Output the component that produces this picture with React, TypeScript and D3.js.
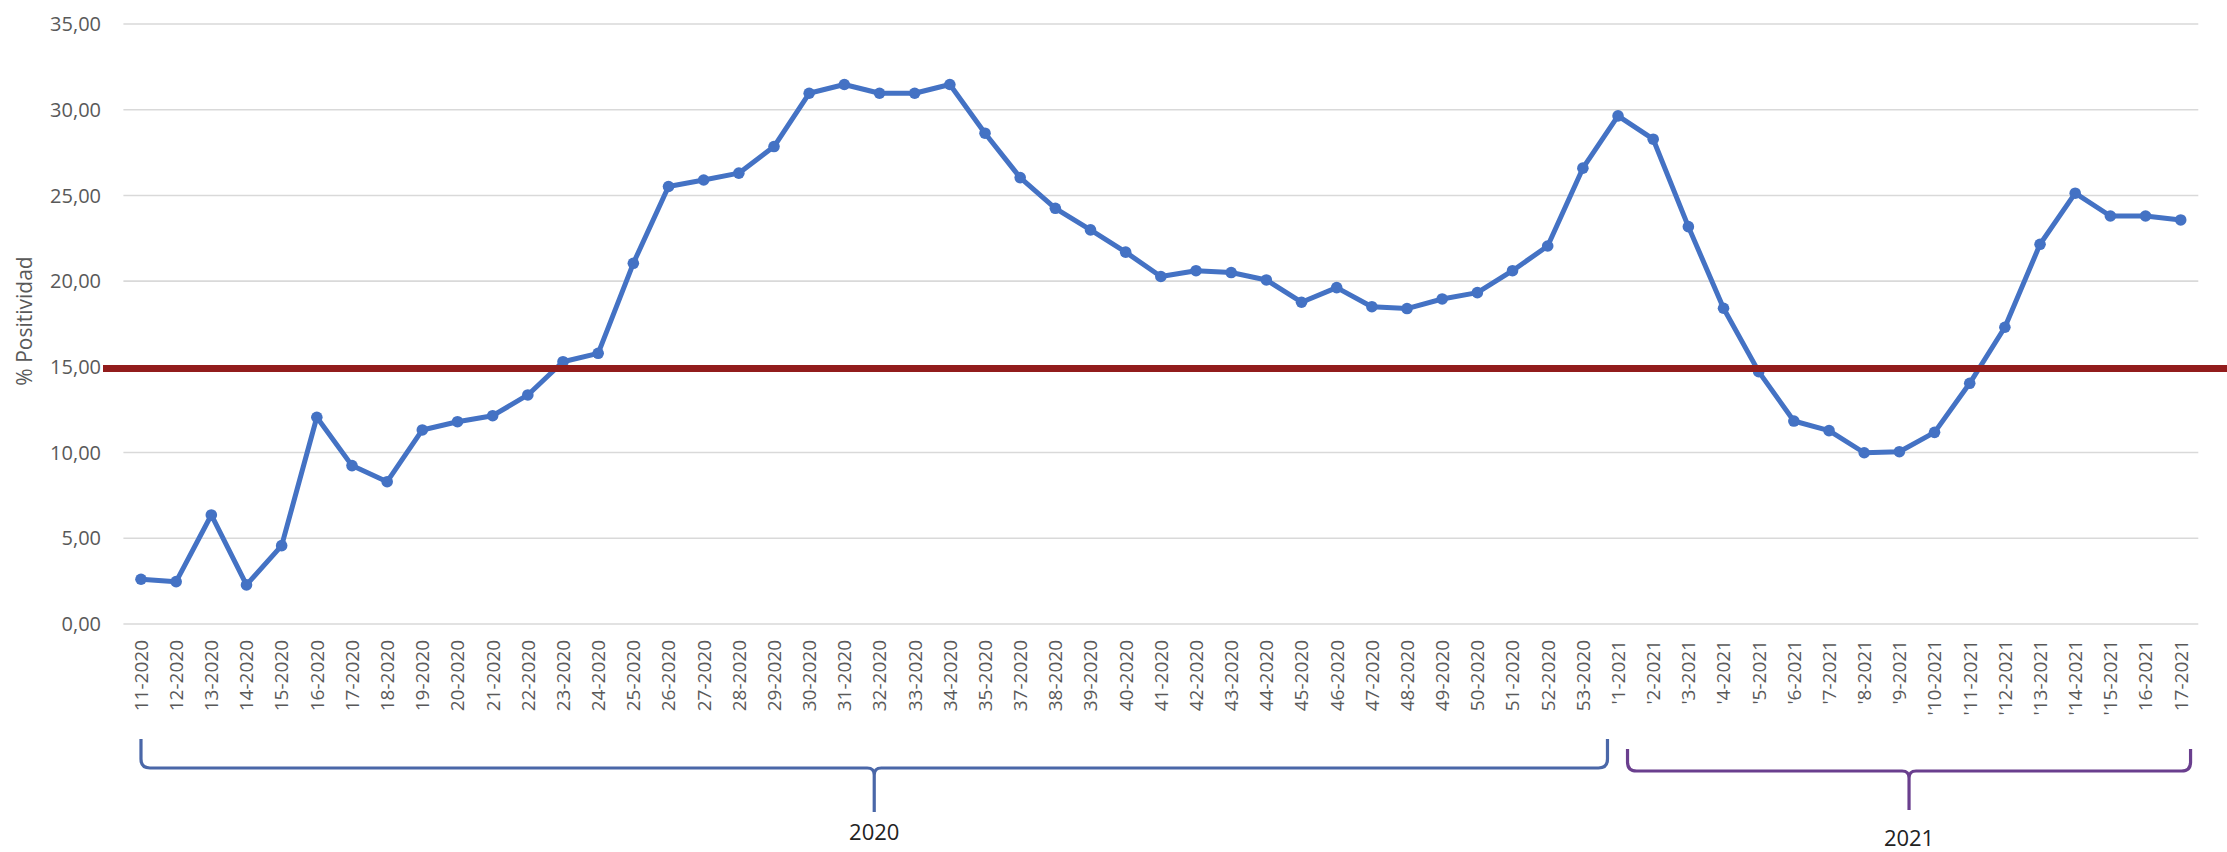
import React from "react";
import * as d3 from "d3";

const labels2020 = [
  "11-2020","12-2020","13-2020","14-2020","15-2020","16-2020","17-2020","18-2020","19-2020","20-2020",
  "21-2020","22-2020","23-2020","24-2020","25-2020","26-2020","27-2020","28-2020","29-2020","30-2020",
  "31-2020","32-2020","33-2020","34-2020","35-2020","37-2020","38-2020","39-2020","40-2020","41-2020",
  "42-2020","43-2020","44-2020","45-2020","46-2020","47-2020","48-2020","49-2020","50-2020","51-2020",
  "52-2020","53-2020",
];
const labels2021 = [
  "'1-2021","'2-2021","'3-2021","'4-2021","'5-2021","'6-2021","'7-2021","'8-2021","'9-2021","'10-2021",
  "'11-2021","'12-2021","'13-2021","'14-2021","'15-2021","16-2021","17-2021",
];
const values2020 = [
  2.61, 2.47, 6.36, 2.28, 4.57, 12.06, 9.24, 8.3, 11.32, 11.8,
  12.15, 13.36, 15.3, 15.79, 21.04, 25.52, 25.9, 26.3, 27.85, 30.96,
  31.47, 30.96, 30.96, 31.47, 28.63, 26.04, 24.25, 22.99, 21.69, 20.27,
  20.61, 20.5, 20.07, 18.77, 19.62, 18.51, 18.4, 18.96, 19.33, 20.61,
  22.05, 26.59,
];
const values2021 = [
  29.64, 28.28, 23.18, 18.42, 14.72, 11.84, 11.28, 9.99, 10.05, 11.18,
  14.04, 17.31, 22.15, 25.13, 23.8, 23.8, 23.57,
];
const yTicks = [0, 5, 10, 15, 20, 25, 30, 35];
const threshold = 14.9;
const yearLabels = ["2020", "2021"];
const yTitle = "% Positividad";

const categories = [...labels2020, ...labels2021];
const values = [...values2020, ...values2021];
const data = categories.map((c, i) => ({ c, v: values[i] }));

const W = 2227;
const H = 852;
const FONT = "'Open Sans', 'Noto Sans', sans-serif";

function bracketPath(L: number, R: number, T: number, B: number, M: number, tip: number) {
  const r = 9;
  const r2 = 7;
  return (
    `M${L},${T} V${B - r} Q${L},${B} ${L + r},${B} H${M - r2} Q${M},${B} ${M},${B + r2} V${tip} ` +
    `M${R},${T} V${B - r} Q${R},${B} ${R - r},${B} H${M + r2} Q${M},${B} ${M},${B + r2}`
  );
}

export default function App() {
  const x = d3.scalePoint<string>().domain(categories).range([123.4, 2198.3]).padding(0.5);
  const y = d3.scaleLinear().domain([0, 35]).range([624, 24]);
  const step = x.step();
  const fmt = (v: number) => d3.format(".2f")(v).replace(".", ",");

  const line = d3
    .line<{ c: string; v: number }>()
    .x((d) => x(d.c) as number)
    .y((d) => y(d.v));

  // bracket extents derived from the category scale
  const b20L = x(labels2020[0]) as number;
  const b20R = (x(labels2020[labels2020.length - 1]) as number) + 0.7 * step;
  const b21L = (x(labels2021[0]) as number) + 0.27 * step;
  const b21R = (x(labels2021[labels2021.length - 1]) as number) + 0.28 * step;
  const b20M = (b20L + b20R) / 2;
  const b21M = (b21L + b21R) / 2;

  return (
    <svg
      width={W}
      height={H}
      style={{ position: "absolute", left: 0, top: 0, background: "#fff" }}
      fontFamily={FONT}
    >
      <rect x={0} y={0} width={W} height={H} fill="#fff" />
      {/* gridlines */}
      {yTicks.map((t) => (
        <g key={t}>
          <line x1={123.4} x2={2198.3} y1={y(t)} y2={y(t)} stroke="#d9d9d9" strokeWidth={1.6} />
          <text
            x={101}
            y={y(t)}
            dy="0.36em"
            textAnchor="end"
            fontSize={20}
            fill="#595959"
          >
            {fmt(t)}
          </text>
        </g>
      ))}
      {/* y title */}
      <text
        transform={`translate(24,${321}) rotate(-90)`}
        textAnchor="middle"
        dy="0.36em"
        fontSize={21}
        fill="#595959"
      >
        {yTitle}
      </text>
      {/* x labels */}
      {categories.map((c) => (
        <text
          key={c}
          transform={`translate(${x(c)},${640}) rotate(-90)`}
          textAnchor="end"
          dy="0.36em"
          fontSize={19}
          fill="#595959"
        >
          {c}
        </text>
      ))}
      {/* series */}
      <path d={line(data) || ""} fill="none" stroke="#4472c4" strokeWidth={5} strokeLinejoin="round" />
      {data.map((d) => (
        <circle key={d.c} cx={x(d.c)} cy={y(d.v)} r={5.8} fill="#4472c4" />
      ))}
      {/* threshold */}
      <line x1={103} x2={W} y1={y(threshold)} y2={y(threshold)} stroke="#921c1c" strokeWidth={7} />
      {/* year brackets */}
      <path
        d={bracketPath(b20L, b20R, 739, 768, b20M, 812)}
        fill="none"
        stroke="#4a67a8"
        strokeWidth={3.2}
      />
      <path
        d={bracketPath(b21L, b21R, 749, 771, b21M, 810)}
        fill="none"
        stroke="#6a3f8e"
        strokeWidth={3.2}
      />
      <text x={b20M} y={832} dy="0.36em" textAnchor="middle" fontSize={22} fill="#222">
        {yearLabels[0]}
      </text>
      <text x={b21M} y={838} dy="0.36em" textAnchor="middle" fontSize={22} fill="#222">
        {yearLabels[1]}
      </text>
    </svg>
  );
}
